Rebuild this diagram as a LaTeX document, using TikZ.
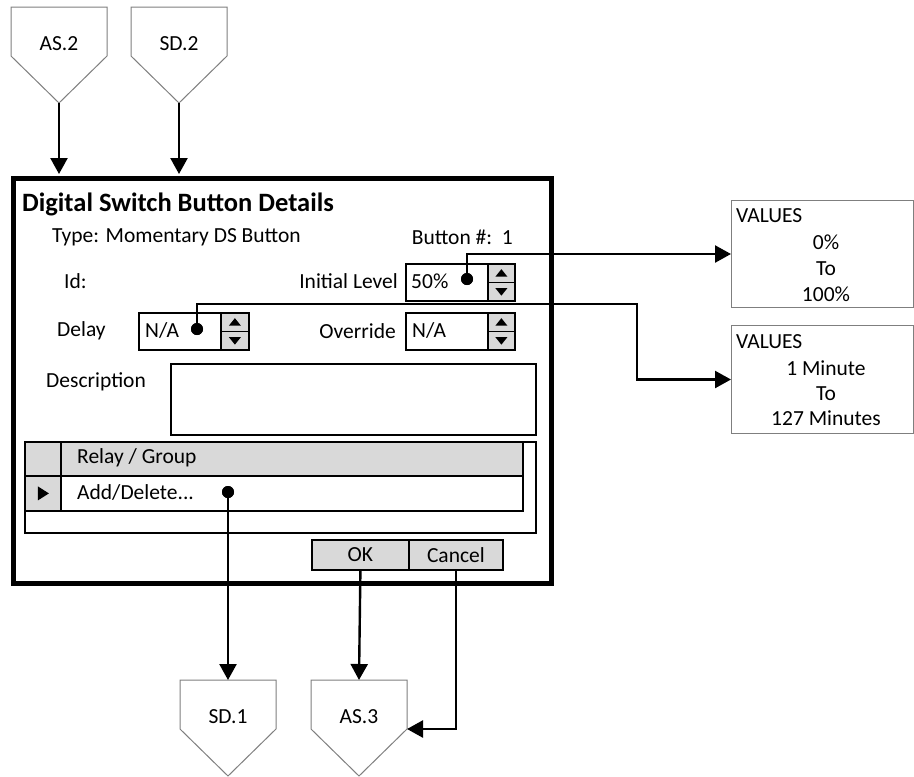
\documentclass[tikz,border=0pt]{standalone}
\usepackage{fontspec}
\setmainfont{Carlito}
\usetikzlibrary{arrows.meta}
\definecolor{btn}{HTML}{D9D9D9}
\definecolor{olg}{HTML}{7F7F7F}
\newcommand\offpg[4]{%
  \draw[offpage] (#2,#3) -- ++(96,0) -- ++(0,49) -- ++(-48,47) -- ++(-48,-47) -- cycle;
  \coordinate (#1-tip) at (#2+48,#3+96);
  \coordinate (#1-top) at (#2+48,#3);
  \coordinate (#1-r) at (#2+96,#3+49);
  \node[txt] (#1) at (#2+48,#3+37) {#4};}
\begin{document}
\begin{tikzpicture}[x=1pt,y=-1pt,
  txt/.style={font=\fontsize{21.5}{26}\selectfont, inner sep=0pt},
  conn/.style={line width=2.4pt, -{Triangle[length=16pt,width=17pt]}},
  field/.style={draw, line width=1.8pt, fill=white, inner sep=0pt, anchor=north west},
  gbox/.style={draw, line width=1.8pt, fill=btn, inner sep=0pt, anchor=north west},
  offpage/.style={draw=olg, line width=1pt, fill=white},
  valbox/.style={draw=olg, line width=1pt, fill=white, inner sep=0pt, anchor=north west, minimum width=182, minimum height=107},
  dot/.style={circle, fill=black, inner sep=0pt, minimum size=12pt},
  tri/.style={fill=black}
]
\useasboundingbox (0,0) rectangle (914,777);

% off-page connectors
\offpg{AS2}{11}{7}{AS.2}
\offpg{SD2}{131}{7}{SD.2}
\offpg{SD1}{180}{680}{SD.1}
\offpg{AS3}{311}{680}{AS.3}

% dialog
\node[draw, line width=5pt, fill=white, inner sep=0pt, anchor=north west, minimum width=538, minimum height=405] (dlg) at (11,176) {};

\node[font=\bfseries\fontsize{26.5}{30}\selectfont, inner sep=0pt, anchor=west] (title) at (22,204) {Digital Switch Button Details};
\node[txt, anchor=west] (type) at (52,237) {Type: Momentary DS Button};
\node[txt, anchor=east] (bnum) at (513,237) {Button \#:\ \ 1};
\node[txt, anchor=west] (id) at (64,281) {Id:};
\node[txt, anchor=east] (ilab) at (398,281) {Initial Level};
\node[txt, anchor=west] (dlab) at (57,331) {Delay};
\node[txt, anchor=east] (olab) at (396,331) {Override};
\node[txt, anchor=west] (desclab) at (46,382) {Description};

% initial level field
\node[field, minimum width=82, minimum height=37] (initf) at (405,263) {};
\node[txt, anchor=west] (initv) at (411,281.5) {50\%};
\node[gbox, minimum width=27, minimum height=18.5] (initu) at (487,263) {};
\node[gbox, minimum width=27, minimum height=18.5] (initd) at (487,281.5) {};
% delay field
\node[field, minimum width=82, minimum height=37] (delf) at (138,312) {};
\node[txt, anchor=west] (delv) at (145,330.5) {N/A};
\node[gbox, minimum width=28, minimum height=18.5] (delu) at (220,312) {};
\node[gbox, minimum width=28, minimum height=18.5] (deld) at (220,330.5) {};
% override field
\node[field, minimum width=82, minimum height=37] (ovf) at (405,312) {};
\node[txt, anchor=west] (ovv) at (412,330.5) {N/A};
\node[gbox, minimum width=27, minimum height=18.5] (ovu) at (487,312) {};
\node[gbox, minimum width=27, minimum height=18.5] (ovd) at (487,330.5) {};
% spinner arrows
\foreach \n in {initu,delu,ovu}{
  \fill[tri] ([xshift=-6pt,yshift=-3.5pt]\n.center) -- ([xshift=6pt,yshift=-3.5pt]\n.center) -- ([yshift=4pt]\n.center) -- cycle;}
\foreach \n in {initd,deld,ovd}{
  \fill[tri] ([xshift=-6pt,yshift=3.5pt]\n.center) -- ([xshift=6pt,yshift=3.5pt]\n.center) -- ([yshift=-4pt]\n.center) -- cycle;}

% description
\node[field, minimum width=365, minimum height=71] (desc) at (170,363) {};

% table
\node[field, minimum width=511, minimum height=91] (tbl) at (24,441) {};
\node[gbox, minimum width=36, minimum height=34] (hcorner) at (24,441) {};
\node[gbox, minimum width=462, minimum height=34] (hdr) at (60,441) {};
\node[gbox, minimum width=36, minimum height=35] (rind) at (24,475) {};
\node[field, minimum width=462, minimum height=35] (row) at (60,475) {};
\node[txt, anchor=west] (hdrt) at (77,458) {Relay / Group};
\node[txt, anchor=west] (rowt) at (77,492.5) {Add/Delete...};
\fill[tri] ([xshift=-5pt,yshift=-7pt]rind.center) -- ([xshift=-5pt,yshift=7pt]rind.center) -- ([xshift=6pt]rind.center) -- cycle;

% buttons
\node[gbox, minimum width=97, minimum height=30] (ok) at (311,539) {};
\node[txt] (okt) at (ok.center) {OK};
\node[gbox, minimum width=94, minimum height=30] (cancel) at (408,539) {};
\node[txt] (cancelt) at (cancel.center) {Cancel};

% value boxes
\node[valbox] (val1) at (731,200) {};
\node[txt, anchor=west] (v1h) at (736,216) {VALUES};
\node[txt, align=center] (v1t) at (826,268) {0\%\\To\\100\%};
\node[valbox, minimum height=108] (val2) at (731,325) {};
\node[txt, anchor=west] (v2h) at (736,342) {VALUES};
\node[txt, align=center, font=\fontsize{21.5}{25}\selectfont] (v2t) at (826,393) {1 Minute\\To\\127 Minutes};

% dots
\node[dot] (initdot) at (467,279) {};
\node[dot] (deldot) at (197,329) {};
\node[dot] (adddot) at (228,492) {};

% connectors
\draw[conn, shorten >=2pt] (AS2-tip) -- (AS2-tip |- dlg.north);
\draw[conn, shorten >=2pt] (SD2-tip) -- (SD2-tip |- dlg.north);
\draw[conn] (initdot.center) |- (val1.west);
\coordinate (dk) at (637,304);
\draw[conn] (deldot.center) |- (dk) |- (val2.west);
\draw[conn] (adddot.center) -- (SD1-top);
\draw[conn] (ok.south) -- (AS3-top);
\draw[conn] (cancel.south) |- (AS3-r);

% redraw dots on top
\node[dot] at (initdot) {};
\node[dot] at (deldot) {};
\node[dot] at (adddot) {};
\end{tikzpicture}
\end{document}
